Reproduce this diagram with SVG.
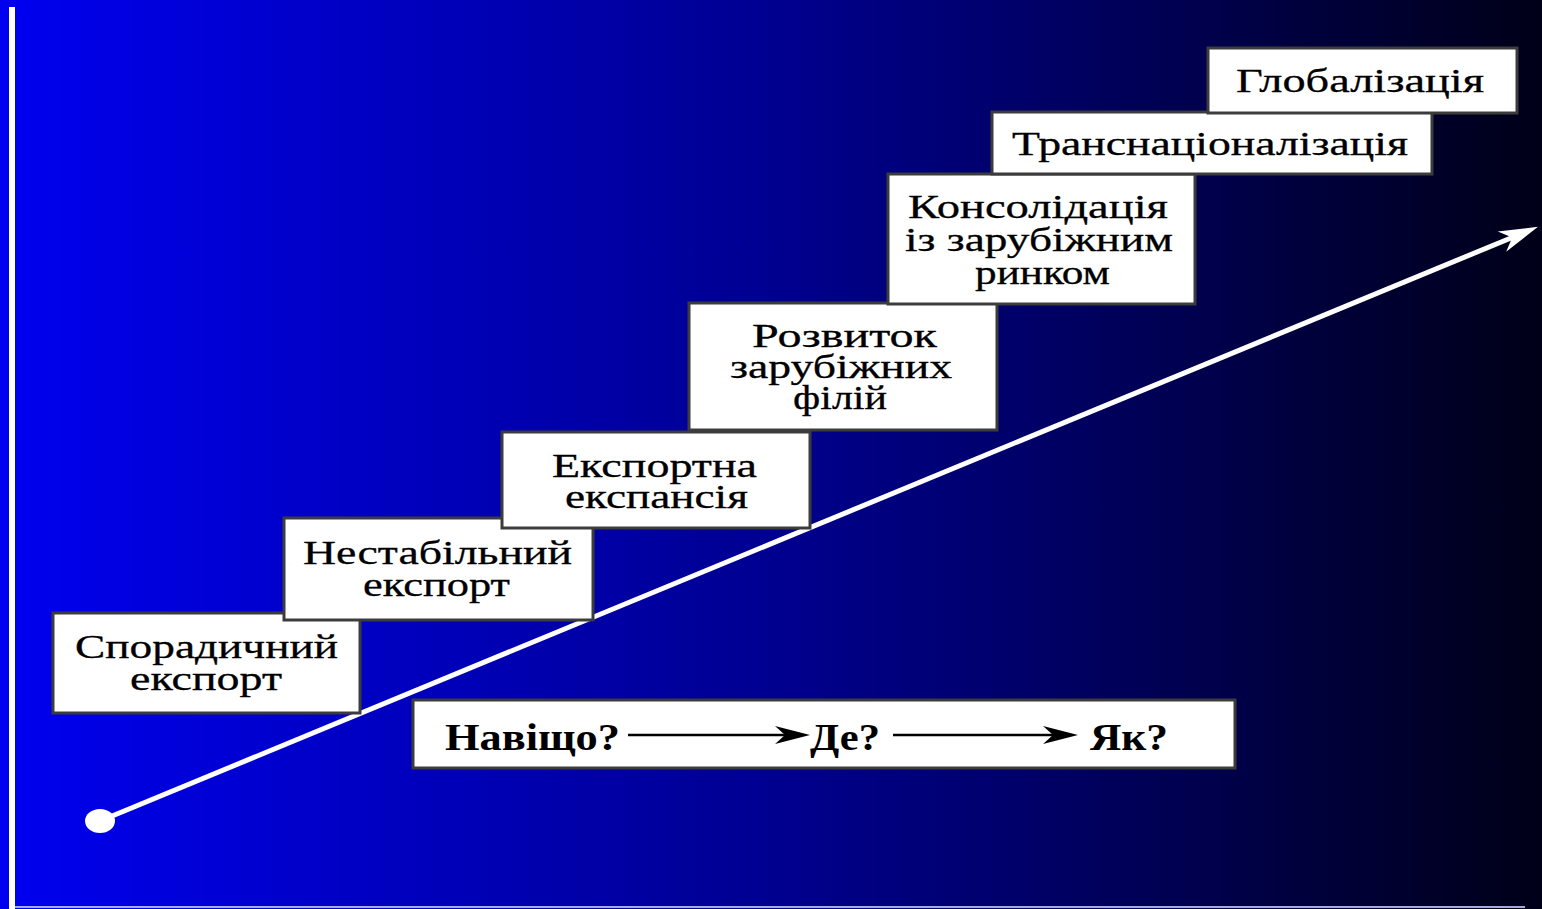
<svg xmlns="http://www.w3.org/2000/svg" width="1542" height="909" viewBox="0 0 1542 909">
<style>
.box{fill:#ffffff;stroke:#3c3c3c;stroke-width:3}
.t{font-family:"Liberation Serif","DejaVu Serif",serif;font-size:34px;fill:#000;stroke:#000;stroke-width:0.3;text-anchor:middle}
.b{font-family:"Liberation Serif","DejaVu Serif",serif;font-size:38px;font-weight:bold;fill:#000;text-anchor:middle}
.conn{stroke:#000;stroke-width:2.5;fill:none}
</style>
<defs>
<linearGradient id="bg" x1="0" y1="0" x2="1" y2="0">
<stop offset="0" stop-color="#0000f0"/>
<stop offset="0.5" stop-color="#000090"/>
<stop offset="1" stop-color="#000018"/>
</linearGradient>
<marker id="bigHead" markerUnits="userSpaceOnUse" viewBox="-40 -13 42 26" refX="-26" refY="0" markerWidth="42" markerHeight="26" orient="auto">
<path d="M0,0 L-39,-11 L-28,0 L-39,11 Z" fill="#ffffff"/>
</marker>
<marker id="blackHead" markerUnits="userSpaceOnUse" viewBox="-38 -11 40 22" refX="-22" refY="0" markerWidth="40" markerHeight="22" orient="auto">
<path d="M0,0 L-35,-9 L-25,0 L-35,9 Z" fill="#000"/>
</marker>
</defs>
<rect x="0" y="0" width="1542" height="909" fill="url(#bg)"/>
<rect x="9" y="7" width="6" height="902" fill="#ffffff"/>
<line x1="15" y1="907" x2="1525" y2="907" stroke="#a8a8e0" stroke-width="2"/>

<g id="connectors">
<ellipse cx="100" cy="821" rx="15" ry="12" fill="#ffffff"/>
<line x1="100" y1="821" x2="1514" y2="236.7" stroke="#ffffff" stroke-width="5" marker-end="url(#bigHead)"/>
</g>

<g id="n1"><rect class="box" x="53" y="613" width="307" height="100"/>
<text class="t" x="206.5" y="658" textLength="263" lengthAdjust="spacingAndGlyphs">Спорадичний</text>
<text class="t" x="206" y="690" textLength="152" lengthAdjust="spacingAndGlyphs">експорт</text></g>

<g id="n2"><rect class="box" x="284" y="518" width="309" height="102"/>
<text class="t" x="437.5" y="564" textLength="269" lengthAdjust="spacingAndGlyphs">Нестабільний</text>
<text class="t" x="436.5" y="596" textLength="147" lengthAdjust="spacingAndGlyphs">експорт</text></g>

<g id="n3"><rect class="box" x="502" y="432" width="308" height="96"/>
<text class="t" x="654.5" y="477" textLength="205" lengthAdjust="spacingAndGlyphs">Експортна</text>
<text class="t" x="656.5" y="508" textLength="183" lengthAdjust="spacingAndGlyphs">експансія</text></g>

<g id="n4"><rect class="box" x="689" y="303" width="308" height="127"/>
<text class="t" x="844.5" y="347" textLength="185" lengthAdjust="spacingAndGlyphs">Розвиток</text>
<text class="t" x="841" y="378" textLength="222" lengthAdjust="spacingAndGlyphs">зарубіжних</text>
<text class="t" x="840" y="409" textLength="94" lengthAdjust="spacingAndGlyphs">філій</text></g>

<g id="n5"><rect class="box" x="888" y="174" width="307" height="130"/>
<text class="t" x="1038" y="218" textLength="260" lengthAdjust="spacingAndGlyphs">Консолідація</text>
<text class="t" x="1039" y="251" textLength="268" lengthAdjust="spacingAndGlyphs">із зарубіжним</text>
<text class="t" x="1042.5" y="284" textLength="135" lengthAdjust="spacingAndGlyphs">ринком</text></g>

<g id="n6"><rect class="box" x="992" y="112" width="440" height="62"/>
<text class="t" x="1210" y="155" textLength="396" lengthAdjust="spacingAndGlyphs">Транснаціоналізація</text></g>

<g id="n7"><rect class="box" x="1208" y="48" width="309" height="65"/>
<text class="t" x="1360" y="92" textLength="248" lengthAdjust="spacingAndGlyphs">Глобалізація</text></g>

<g id="n8"><rect class="box" x="413" y="700" width="822" height="68"/>
<text class="b" x="532.5" y="750" textLength="175" lengthAdjust="spacingAndGlyphs">Навіщо?</text>
<text class="b" x="845" y="750" textLength="70" lengthAdjust="spacingAndGlyphs">Де?</text>
<text class="b" x="1129" y="750" textLength="78" lengthAdjust="spacingAndGlyphs">Як?</text>
<line class="conn" x1="628" y1="735" x2="788" y2="735" marker-end="url(#blackHead)"/>
<line class="conn" x1="893" y1="735" x2="1056" y2="735" marker-end="url(#blackHead)"/>
</g>
</svg>
